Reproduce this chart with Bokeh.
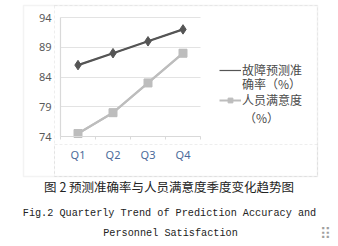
from bokeh.plotting import figure
from bokeh.models import (Range1d, FixedTicker, Legend, LegendItem, Label, BoxAnnotation)
from bokeh.embed import file_html
from bokeh.resources import INLINE

quarters = ["Q1", "Q2", "Q3", "Q4"]
accuracy = [86, 88, 90, 92]
satisfaction = [74.5, 78, 83, 88]
y_ticks = [74, 79, 84, 89, 94]
legend_names = ["故障预测准", "人员满意度"]
legend_tails = ["确率（%）", "（%）"]
caption_cn = "图 2  预测准确率与人员满意度季度变化趋势图"
caption_en1 = "Fig.2 Quarterly Trend of Prediction Accuracy and"
caption_en2 = "Personnel Satisfaction"

W, H = 338, 246
# plot area in canvas pixels
PL, PR, PT, PB = 60, 200, 17, 136
n = len(quarters)
xpx = (PR - PL) / n
ypx = (PB - PT) / (y_ticks[-1] - y_ticks[0])
x_pos = [i + 0.5 for i in range(n)]          # category centres on the scale
bounds_x = list(range(n + 1))                 # category boundaries

p = figure(width=W, height=H,
           x_range=Range1d(-PL / xpx, (W - PL) / xpx),
           y_range=Range1d(y_ticks[0] - (H - PB) / ypx, y_ticks[-1] + PT / ypx),
           output_backend="svg", toolbar_location=None,
           min_border_left=0, min_border_right=0, min_border_top=0, min_border_bottom=0)
p.background_fill_color = "white"
p.border_fill_color = "white"
p.outline_line_color = None

def cbox(l, r, t, b, **kw):
    return BoxAnnotation(left=l, right=r, top=t, bottom=b, left_units="canvas",
                         right_units="canvas", top_units="canvas", bottom_units="canvas",
                         fill_alpha=0, level="underlay", **kw)

p.add_layout(cbox(54, 317, 5, 176, line_color="#c8c8c8", line_dash="3 2", line_width=1))
p.add_layout(cbox(54, 317, 144, 176, line_color="#c8c8c8", line_dash="3 2", line_width=1))
p.add_layout(cbox(23, 317, 5, 176, line_color="#d6d6d6", line_width=1.5))

p.xgrid.grid_line_color = None
p.ygrid.grid_line_color = "#e3e3e3"
p.ygrid.grid_line_width = 1.2
p.ygrid.ticker = FixedTicker(ticks=y_ticks)
p.ygrid.bounds = (y_ticks[0], y_ticks[-1])
p.ygrid.cross_bounds = (0, n)

xa, ya = p.xaxis[0], p.yaxis[0]
ya.fixed_location = 0
ya.bounds = (y_ticks[0], y_ticks[-1])
ya.ticker = FixedTicker(ticks=y_ticks)
xa.fixed_location = y_ticks[0]
xa.bounds = (0, n)
xa.ticker = FixedTicker(ticks=x_pos, minor_ticks=bounds_x)
xa.major_label_overrides = {x: q for x, q in zip(x_pos, quarters)}

for ax in (xa, ya):
    ax.axis_line_color = "#d9d9d9"
    ax.axis_line_width = 1.2
    ax.major_tick_line_color = None
    ax.major_tick_in = 0
    ax.major_tick_out = 0
    ax.major_label_text_font = "Noto Sans"
    ax.major_label_text_font_size = "11px"
ya.minor_tick_line_color = None
xa.minor_tick_line_color = "#d9d9d9"
xa.minor_tick_in = 0
xa.minor_tick_out = 3
ya.major_label_text_color = "#595959"
ya.major_label_standoff = 9
xa.major_label_text_color = "#4a6a9a"
xa.major_label_standoff = 7

# legend-key renderers: drawn beneath the visible series (hidden by them), styled like the reference keys
k1 = p.line(x_pos, accuracy, line_color="#555555", line_width=1.2)
k2 = p.line(x_pos, satisfaction, line_color="#bdbdbd", line_width=2)
k2m = p.scatter(x_pos, satisfaction, marker="square", size=7, color="#bdbdbd")

p.line(x_pos, accuracy, line_color="#555555", line_width=2.2)
p.scatter(x_pos, accuracy, marker="diamond", size=9.5, color="#555555")
p.line(x_pos, satisfaction, line_color="#bdbdbd", line_width=2.2)
p.scatter(x_pos, satisfaction, marker="square", size=8, color="#bdbdbd")

legend = Legend(items=[LegendItem(label=legend_names[0], renderers=[k1]),
                       LegendItem(label=legend_names[1], renderers=[k2, k2m])],
                location=(219, 138), orientation="vertical",
                glyph_width=22, glyph_height=12, label_standoff=1, spacing=13,
                padding=0, margin=0, label_height=12,
                label_text_font="Noto Sans CJK SC", label_text_font_size="12px",
                label_text_color="#4a4a4a", border_line_color=None,
                background_fill_alpha=0)
p.add_layout(legend, "center")

for txt, x, y in [(legend_tails[0], 271, 83), (legend_tails[1], 261, 117)]:
    p.add_layout(Label(x=x, y=y, x_units="canvas", y_units="canvas", text=txt,
                       text_align="center", text_baseline="middle",
                       text_font="Noto Sans CJK SC", text_font_size="12px",
                       text_color="#4a4a4a"))

p.add_layout(Label(x=170, y=186, x_units="canvas", y_units="canvas", text=caption_cn,
                   text_align="center", text_baseline="middle",
                   text_font="Noto Sans CJK SC", text_font_size="12.5px", text_color="#222222"))
p.add_layout(Label(x=169, y=213, x_units="canvas", y_units="canvas", text=caption_en1,
                   text_align="center", text_baseline="middle",
                   text_font="Liberation Mono", text_font_size="10.2px", text_color="#222222"))
p.add_layout(Label(x=170, y=233, x_units="canvas", y_units="canvas", text=caption_en2,
                   text_align="center", text_baseline="middle",
                   text_font="Liberation Mono", text_font_size="10.2px", text_color="#222222"))
p.add_layout(Label(x=325, y=233, x_units="canvas", y_units="canvas", text="⠿",
                   text_align="center", text_baseline="middle",
                   text_font="DejaVu Sans", text_font_size="15px", text_color="#a0a0a0"))

open("out.html", "w").write(file_html(p, INLINE))
